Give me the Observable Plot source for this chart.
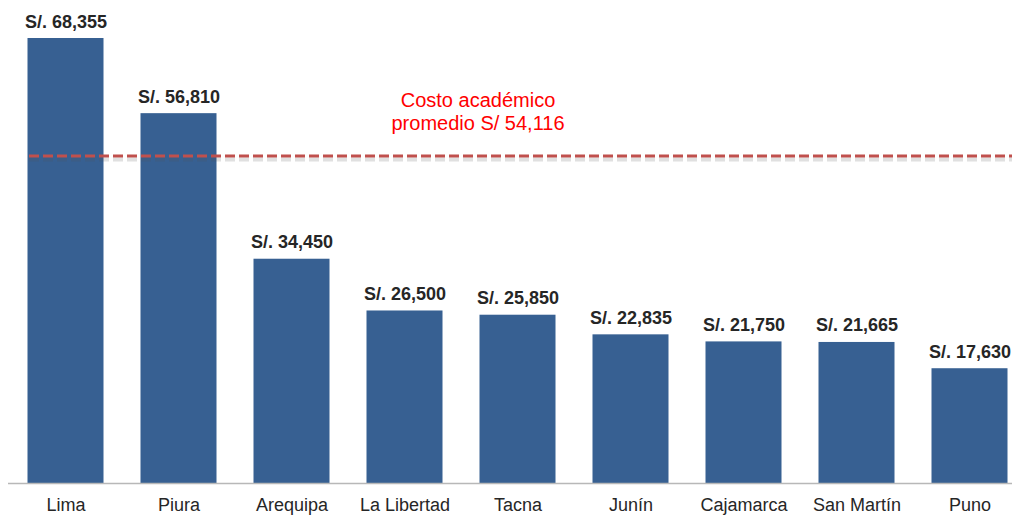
<!DOCTYPE html>
<html>
<head>
<meta charset="utf-8">
<script src="https://cdn.jsdelivr.net/npm/d3@7"></script>
<script src="https://cdn.jsdelivr.net/npm/@observablehq/plot@0.6"></script>
<style>
  html, body { margin: 0; padding: 0; background: #fff; overflow: hidden; }
  #chart svg { display: block; font-family: "Liberation Sans", Arial, sans-serif; }
</style>
</head>
<body>
<div id="chart"></div>
<script>
// Data
const regiones = ["Lima", "Piura", "Arequipa", "La Libertad", "Tacna", "Junín", "Cajamarca", "San Martín", "Puno"];
const costos = [68355, 56810, 34450, 26500, 25850, 22835, 21750, 21665, 17630];
const promedio = 54116;
// Position of the dashed average line as drawn in the picture (read on the bar scale)
const lineaPromedio = 50300;
const textoPromedio = "Costo académico\npromedio S/ 54,116";

const data = regiones.map((r, i) => ({region: r, costo: costos[i]}));
const fmt = v => "S/. " + d3.format(",")(v);

const chart = Plot.plot({
  width: 1012,
  height: 515,
  marginLeft: 8,
  marginRight: 0,
  marginTop: 0,
  marginBottom: 32,
  style: {fontFamily: "'Liberation Sans', Arial, sans-serif", background: "#fff", overflow: "visible"},
  x: {domain: regiones, range: [8.5, 1025.5], padding: 0, label: null},
  y: {domain: [0, 68355], range: [483, 38], axis: null},
  marks: [
    Plot.barY(data, {x: "region", y: "costo", fill: "#376092", insetLeft: 18.5, insetRight: 18.5}),
    Plot.ruleY([0], {stroke: "#b8b8b8", strokeWidth: 1.5}),
    // shadow of dashed line
    Plot.ruleY([lineaPromedio], {stroke: "#555", strokeOpacity: 0.18, strokeWidth: 4, strokeDasharray: "10,4", dy: 3.5, insetLeft: 21}),
    Plot.ruleY([lineaPromedio], {stroke: "#c0504d", strokeWidth: 3, strokeDasharray: "10,4", insetLeft: 21}),
    Plot.text(data, {x: "region", y: "costo", text: d => fmt(d.costo), lineAnchor: "bottom", dy: -11,
      fontSize: 18, fontWeight: "bold", fill: "#262626"}),
    Plot.text([textoPromedio], {x: () => "Tacna", y: () => lineaPromedio, text: d => d, dx: -40, dy: -26,
      lineAnchor: "bottom", lineHeight: 1.15, fontSize: 20, fill: "#ff0000"}),
    Plot.axisX({tickSize: 0, tickPadding: 15, fontSize: 18, fill: "#262626", label: null})
  ]
});
document.getElementById("chart").appendChild(chart);
</script>
</body>
</html>
